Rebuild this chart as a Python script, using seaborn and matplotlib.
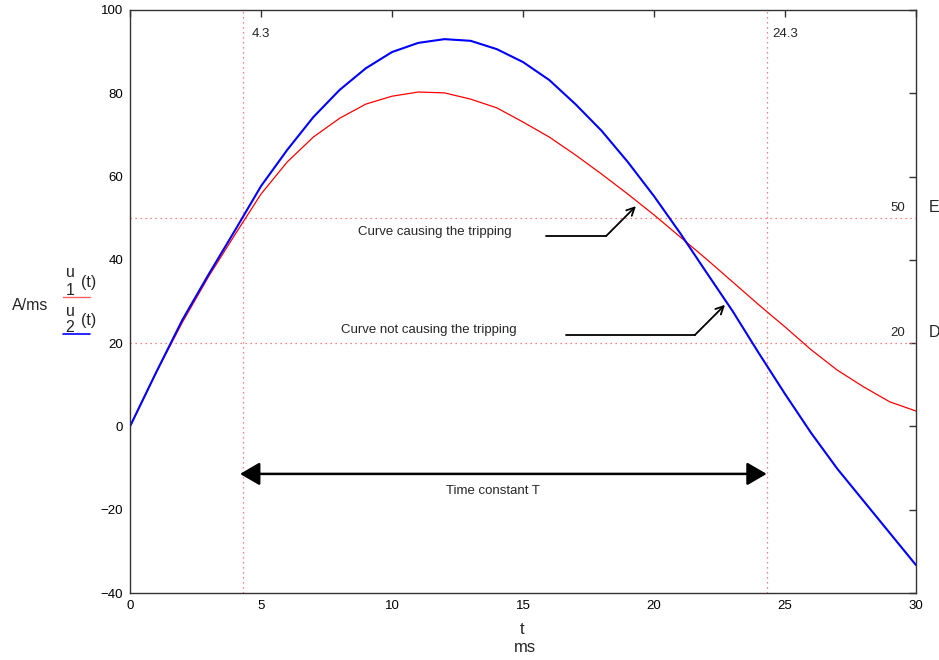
import numpy as np
import pandas as pd
import seaborn as sns
import matplotlib.pyplot as plt

t_ms = list(range(0, 31))
u1 = [0, 13, 25, 36, 46, 55.8, 63.5, 69.5, 74.0, 77.4, 79.3, 80.3, 80.1, 78.6, 76.5, 73.1,
      69.5, 65.2, 60.6, 55.8, 50.8, 45.5, 40.2, 34.7, 29.2, 23.9, 18.4, 13.5, 9.5, 5.9, 3.7]
u2 = [0, 13, 25.6, 36.5, 47, 57.7, 66.4, 74.3, 80.8, 86.0, 89.9, 92.1, 93.0, 92.6, 90.6, 87.5,
      83.2, 77.4, 71.0, 63.5, 55.3, 46.4, 37.0, 27.7, 17.6, 7.8, -1.6, -10.2, -17.9, -25.6, -33.3]

t_lo, t_hi = 4.3, 24.3
levels = [50, 20]
level_names = ["E", "D"]
x_ticks = [0, 5, 10, 15, 20, 25, 30]
y_ticks = [-40, -20, 0, 20, 40, 60, 80, 100]

df = pd.DataFrame({"t": t_ms, "u1": u1, "u2": u2})

sns.set_style("white")
plt.rcParams['font.family'] = ['Liberation Sans', 'DejaVu Sans']

fig = plt.figure(figsize=(9.39, 6.60), dpi=100)
ax = fig.add_axes([130 / 939, 1 - 593 / 660, 786 / 939, 583 / 660])

pink = "#ff5c5c"
for lv in levels:
    ax.axhline(lv, color=pink, lw=0.9, ls=(0, (1, 3.0)))
for tv in (t_lo, t_hi):
    ax.axvline(tv, color=pink, lw=0.9, ls=(0, (1, 3.0)))

sns.lineplot(data=df, x="t", y="u1", color="red", lw=0.9, ax=ax)
sns.lineplot(data=df, x="t", y="u2", color="blue", lw=1.5, ax=ax)

ax.set_xlim(0, 30)
ax.set_ylim(-40, 100)
ax.set_xticks(x_ticks)
ax.set_yticks(y_ticks)
ax.set_yticklabels([str(v).replace("-", "\u2212") for v in y_ticks])
ax.tick_params(direction="in", length=5, width=1, colors="#333333", labelcolor="black",
               labelsize=9.5, top=True, right=True, pad=5)
for s in ax.spines.values():
    s.set_color("#333333")
    s.set_linewidth(1)
ax.set_xlabel("")
ax.set_ylabel("")

# labels for the marker lines
ax.text(4.66, 94.3, "4.3", fontsize=9.5, va="center")
ax.text(24.5, 94.3, "24.3", fontsize=9.5, va="center")
for lv, name in zip(levels, level_names):
    ax.text(29.6, lv + 2.4, str(lv), fontsize=9.5, ha="right", va="center")
    ax.text(30.5, lv + 2.6, name, fontsize=11.5, ha="left", va="center")

# annotations
ax.text(11.64, 46.7, "Curve causing the tripping", fontsize=9.5, ha="center", va="center")
ax.plot([15.88, 18.17], [45.7, 45.7], color="black", lw=1.3)
ax.annotate("", xy=(19.31, 52.9), xytext=(18.17, 45.7),
            arrowprops=dict(arrowstyle="->", color="black", lw=1.3, mutation_scale=14,
                            shrinkA=0, shrinkB=0))
ax.text(11.41, 23.2, "Curve not causing the tripping", fontsize=9.5, ha="center", va="center")
ax.plot([16.64, 21.56], [21.95, 21.95], color="black", lw=1.3)
ax.annotate("", xy=(22.71, 29.2), xytext=(21.56, 21.95),
            arrowprops=dict(arrowstyle="->", color="black", lw=1.3, mutation_scale=14,
                            shrinkA=0, shrinkB=0))

ax.annotate("", xy=(t_lo - 0.1, -11.4), xytext=(t_hi, -11.4),
            arrowprops=dict(arrowstyle="<|-|>,head_length=0.6,head_width=0.35", color="black",
                            lw=1.8, mutation_scale=20, shrinkA=0, shrinkB=0))
ax.text(13.85, -15.4, "Time constant T", fontsize=9.5, ha="center", va="center")

# axis titles (figure pixel coordinates)
def fig_text(x, y, s, **kw):
    fig.text(x / 939, 1 - y / 660, s, **kw)

fig_text(522, 630, "t", fontsize=12, ha="center", va="center")
fig_text(525, 648, "ms", fontsize=12, ha="center", va="center")
fig_text(30, 305, "A/ms", fontsize=11.5, ha="center", va="center")
fig_text(70, 273, "u", fontsize=11.5, ha="center", va="center")
fig_text(70, 290, "1", fontsize=11.5, ha="center", va="center")
fig_text(89, 283, "(t)", fontsize=11.5, ha="center", va="center")
fig_text(70, 311, "u", fontsize=11.5, ha="center", va="center")
fig_text(70, 328, "2", fontsize=11.5, ha="center", va="center")
fig_text(89, 320, "(t)", fontsize=11.5, ha="center", va="center")
fig.add_artist(plt.Line2D([63 / 939, 90 / 939], [1 - 297 / 660] * 2, color="#ff6060", lw=1))
fig.add_artist(plt.Line2D([63 / 939, 90 / 939], [1 - 334 / 660] * 2, color="blue", lw=1.2))

fig.savefig("out.png", dpi=100)
